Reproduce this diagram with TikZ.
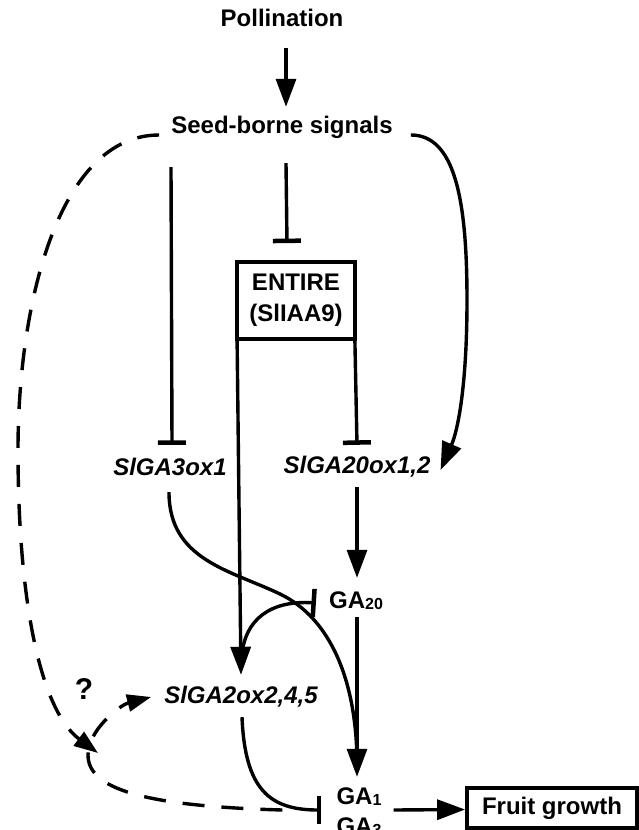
\documentclass[tikz,border=0pt]{standalone}
\usepackage{fontspec}
\setmainfont{Liberation Sans}
\usetikzlibrary{arrows.meta}
\newcommand{\subn}[1]{\raisebox{-1pt}{\fontsize{16}{16}\selectfont #1}}
\begin{document}
\begin{tikzpicture}[x=1pt,y=-1pt,
  lab/.style={font=\fontsize{24}{30}\selectfont\bfseries, inner sep=0pt, text height=17pt, text depth=4pt},
  gene/.style={lab, font=\fontsize{24}{30}\selectfont\bfseries\itshape},
  boxn/.style={draw, line width=3.8pt, inner sep=0pt, align=center, font=\fontsize{24}{31}\selectfont\bfseries},
  conn/.style={line width=3.4pt},
  act/.style={conn, -{Triangle[length=28pt,width=20pt]}},
  inh/.style={conn, -{Bar[width=28pt,line width=4.5pt]}},
  dsh/.style={conn, dash pattern=on 22pt off 17pt},
  dact/.style={dsh, -{Triangle[length=24pt,width=17pt]}}
]
\useasboundingbox (0,0) rectangle (638,830);

% nodes
\node[lab] (poll) at (282,20) {Pollination};
\node[lab] (seed) at (282,127) {Seed-borne signals};
\node[boxn, minimum width=118pt, minimum height=77pt] (entire) at (296,300.5) {ENTIRE\\(SlIAA9)};
\node[gene] (ga3ox) at (170,469) {SlGA3ox1};
\node[gene] (ga20ox) at (357,467) {SlGA20ox1,2};
\node[lab] (ga20) at (356,602) {GA\subn{20}};
\node[gene] (ga2ox) at (241,697) {SlGA2ox2,4,5};
\node[lab, font=\fontsize{30}{30}\selectfont\bfseries] (q) at (84,693) {?};
\node[lab] (ga1) at (359,798) {GA\subn{1}};
\node[lab] (ga3) at (359,828) {GA\subn{3}};
\node[boxn, minimum width=170pt, minimum height=40pt] (fruit) at (552,808) {Fruit growth};
\coordinate (qtip) at (98,753);

% connectors
\draw[act] ([xshift=4pt,yshift=-17.5pt]poll.south) -- ([xshift=4pt,yshift=9.5pt]seed.north);
\draw[inh] ([xshift=-111pt,yshift=-29.5pt]seed.south) -- ([xshift=2pt,yshift=13.5pt]ga3ox.north);
\draw[inh] ([xshift=4pt,yshift=-25.5pt]seed.south) -- ([xshift=-9pt,yshift=17pt]entire.north);
\draw[act] ([xshift=2pt]entire.south west) -- ([yshift=11.5pt]ga2ox.north);
\draw[inh] ([xshift=-2pt]entire.south east) -- ([yshift=11.5pt]ga20ox.north);
\draw[act] ([xshift=18pt,yshift=-8pt]seed.east) .. controls (455,135) and (467,200) .. (467,300)
   .. controls (467,385) and (458,430) .. ([xshift=10pt,yshift=-3pt]ga20ox.east);
\draw[act] ([yshift=-9.5pt]ga20ox.south) -- ([xshift=1pt,yshift=13.5pt]ga20.north);
\draw[act] ([xshift=1pt,yshift=-4.5pt]ga20.south) -- ([xshift=-2pt,yshift=10.5pt]ga1.north);
\draw[conn] ([xshift=-1pt,yshift=-12.5pt]ga3ox.south) .. controls (169,560) and (230,570) .. (280,594)
   .. controls (330,618) and (357,680) .. ([xshift=-2pt,yshift=22.5pt]ga1.north);
\draw[conn, {Bar[width=28pt,line width=4.5pt]}-] ([xshift=-13pt,yshift=-1pt]ga20.west) .. controls (270,600) and (245,620) .. ([xshift=1pt,yshift=31.5pt]ga2ox.north);
\draw[inh] ([xshift=1pt,yshift=-9.5pt]ga2ox.south) .. controls (245,790) and (270,810) .. ([xshift=-15pt,yshift=-12pt]ga1.west);
\draw[act] ([xshift=12pt,yshift=-12pt]ga1.east) -- ([yshift=-1.5pt]fruit.west);
\draw[dact] ([xshift=-12pt,yshift=-8pt]seed.west) .. controls (60,135) and (18,300) .. (18,450)
   .. controls (18,600) and (40,710) .. (qtip);
\draw[dact] ([xshift=-54pt,yshift=-12pt]ga1.west) .. controls (140,806) and (88,788) .. (88,755)
   .. controls (88,730) and (120,705) .. ([xshift=-13pt]ga2ox.west);
\end{tikzpicture}
\end{document}
